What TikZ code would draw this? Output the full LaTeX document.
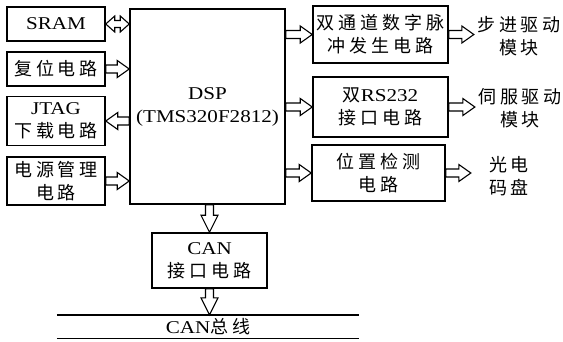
\documentclass[tikz,border=0pt]{standalone}
\usepackage{fontspec}
\setmainfont[FakeStretch=1.17]{Liberation Serif}
\newfontfamily\cjk[LetterSpace=22]{Noto Sans CJK SC}
\usetikzlibrary{calc}

% hollow block arrow from #2 to #3, head length #1
\newcommand{\hollowarrow}[3][12]{%
  \draw[blk] let \p1=(#2), \p2=(#3),
    \n1={veclen(\x2-\x1,\y2-\y1)}, \n2={atan2(\y2-\y1,\x2-\x1)} in
    [shift={(\p1)},rotate=\n2]
    (0pt,-4pt) -- ({(\n1-#1)*1pt},-4pt) -- ({(\n1-#1)*1pt},-8.5pt)
    -- ({\n1*1pt},0pt) -- ({(\n1-#1)*1pt},8.5pt) -- ({(\n1-#1)*1pt},4pt)
    -- (0pt,4pt) -- cycle;}
% hollow double block arrow
\newcommand{\hollowboth}[2]{%
  \draw[blk] let \p1=(#1), \p2=(#2),
    \n1={veclen(\x2-\x1,\y2-\y1)}, \n2={atan2(\y2-\y1,\x2-\x1)} in
    [shift={(\p1)},rotate=\n2]
    (0pt,0pt) -- (9pt,-8pt) -- (9pt,-3.5pt) -- ({(\n1-9)*1pt},-3.5pt)
    -- ({(\n1-9)*1pt},-8pt) -- ({\n1*1pt},0pt) -- ({(\n1-9)*1pt},8pt)
    -- ({(\n1-9)*1pt},3.5pt) -- (9pt,3.5pt) -- (9pt,8pt) -- cycle;}

\begin{document}
\begin{tikzpicture}[x=1pt,y=-1pt,
    box/.style={draw,line width=1.5pt,inner sep=0pt,align=center,
      font=\fontsize{18}{23}\selectfont},
    tag/.style={inner sep=3pt,align=center,font=\fontsize{18}{23}\selectfont},
    blk/.style={draw,fill=white,line width=1.1pt,line join=miter}
  ]
  \useasboundingbox (0,0) rectangle (563,341);

  % left column
  \node[box,minimum width=98pt,minimum height=34pt] (sram) at (56,24) {SRAM};
  \node[box,minimum width=98pt,minimum height=34pt] (reset) at (56,69) {{\cjk 复位电路}};
  \node[box,minimum width=98pt,minimum height=49pt] (jtag) at (56,121) {JTAG\\{\cjk 下载电路}};
  \node[box,minimum width=98pt,minimum height=48pt] (power) at (56,181) {{\cjk 电源管理}\\{\cjk 电路}};

  \node[box,minimum width=155pt,minimum height=195pt] (dsp) at (207.5,106.5) {DSP\\(TMS320F2812)};

  % right column
  \node[box,minimum width=135pt,minimum height=57pt] (pulse) at (380.5,34.5) {{\cjk 双通道数字脉}\\{\cjk 冲发生电路}};
  \node[box,minimum width=135pt,minimum height=60pt] (rs232) at (380.5,107) {{\cjk 双}RS232\\{\cjk 接口电路}};
  \node[box,minimum width=133pt,minimum height=56pt] (pos) at (378.5,173) {{\cjk 位置检测}\\{\cjk 电路}};

  \node[tag] (stepper) at (519,36) {{\cjk 步进驱动}\\{\cjk 模块}};
  \node[tag] (servo) at (520,108) {{\cjk 伺服驱动}\\{\cjk 模块}};
  \node[tag,inner xsep=18pt] (encoder) at (509,176) {{\cjk 光电}\\{\cjk 码盘}};

  % bottom
  \node[box,minimum width=115pt,minimum height=55pt] (can) at (209.5,260.5) {CAN\\{\cjk 接口电路}};
  \node[tag,minimum width=302pt,minimum height=23pt,inner sep=0pt] (bus) at (208,326.5) {CAN{\cjk 总线}};
  \draw[line width=1.4pt] (bus.north west) -- (bus.north east)
    (bus.south west) -- (bus.south east);

  % connectors
  \hollowboth{sram.east}{dsp.west |- sram}
  \hollowarrow{reset.east}{dsp.west |- reset}
  \hollowarrow{dsp.west |- jtag}{jtag.east}
  \hollowarrow{power.east}{dsp.west |- power}
  \hollowarrow{dsp.east |- pulse}{pulse.west}
  \hollowarrow{dsp.east |- rs232}{rs232.west}
  \hollowarrow{dsp.east |- pos}{pos.west}
  \hollowarrow{pulse.east}{stepper.west |- pulse.east}
  \hollowarrow{rs232.east}{servo.west |- rs232.east}
  \hollowarrow{pos.east}{encoder.west |- pos.east}
  \hollowarrow[17]{can.north |- dsp.south}{can.north}
  \hollowarrow[17]{can.south}{can.south |- bus.north}
\end{tikzpicture}
\end{document}
